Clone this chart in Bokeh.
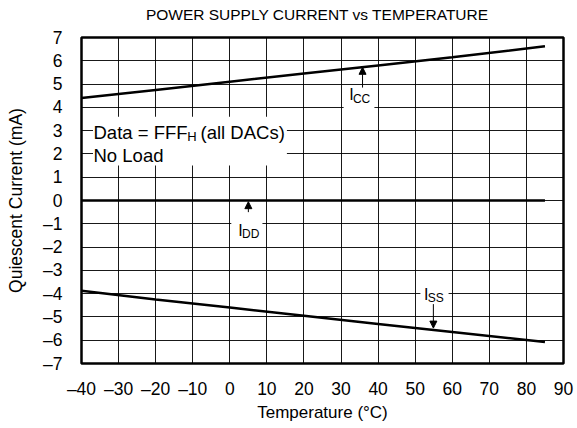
from bokeh.plotting import figure
from bokeh.models import Range1d, FixedTicker, Arrow, NormalHead, Div
from bokeh.layouts import column
from bokeh.core.properties import value
from bokeh.embed import file_html
from bokeh.resources import INLINE

# ---- data ----
temps = [-40, -20, 0, 20, 40, 60, 85]
icc = [4.4, 4.75, 5.1, 5.45, 5.8, 6.15, 6.62]
idd = [0, 0, 0, 0, 0, 0, 0]
iss = [-3.88, -4.25, -4.6, -4.95, -5.3, -5.65, -6.08]

x_ticks = [-40, -30, -20, -10, 0, 10, 20, 30, 40, 50, 60, 70, 80, 90]
y_ticks = [-7, -6, -5, -4, -3, -2, -1, 0, 1, 2, 3, 4, 5, 6, 7]

TITLE = "POWER SUPPLY CURRENT vs TEMPERATURE"
FONT = "Liberation Sans"

title_div = Div(text=TITLE, width=472, height=13, margin=(7, 0, 0, 81),
                styles={"font-family": FONT, "font-size": "15.5px",
                        "text-align": "center", "color": "black",
                        "line-height": "1", "white-space": "nowrap"})

p = figure(
    width=577, height=408,
    frame_width=482, frame_height=326,
    min_border_left=81, min_border_right=14, min_border_top=17, min_border_bottom=65,
    x_range=Range1d(-40, 90), y_range=Range1d(-7, 7),
    output_backend="svg", toolbar_location=None, margin=(0, 0, 0, 0),
)
p.background_fill_color = "white"
p.border_fill_color = "white"
p.outline_line_color = "black"
p.outline_line_width = 2.5

for ax, ticks in ((p.xaxis[0], x_ticks), (p.yaxis[0], y_ticks)):
    ax.ticker = FixedTicker(ticks=ticks)
    ax.major_label_overrides = {t: (str(t).replace("-", "\u2013")) for t in ticks}
    ax.axis_line_color = None
    ax.major_tick_line_color = None
    ax.minor_tick_line_color = None
    ax.major_tick_out = 0
    ax.major_tick_in = 0
    ax.major_label_text_font = FONT
    ax.major_label_text_font_size = "17.5px"
    ax.major_label_text_color = "black"
    ax.axis_label_text_font = FONT
    ax.axis_label_text_font_style = "normal"
    ax.axis_label_text_color = "black"

p.xaxis.axis_label = "Temperature (\u00b0C)"
p.yaxis.axis_label = "Quiescent Current (mA)"
p.xaxis.axis_label_text_font_size = "17px"
p.yaxis.axis_label_text_font_size = "17.5px"
p.xaxis.major_label_standoff = 15
p.yaxis.major_label_standoff = 19
p.xaxis.axis_label_standoff = 1
p.yaxis.axis_label_standoff = 14

p.xgrid.ticker = FixedTicker(ticks=x_ticks)
p.ygrid.ticker = FixedTicker(ticks=y_ticks)
for g in (p.xgrid[0], p.ygrid[0]):
    g.grid_line_color = "black"
    g.grid_line_width = 1
    g.grid_line_alpha = 0.9

# white boxes behind annotation texts
p.quad(left=[-36.9, 0.4, 30.7, 51.4], right=[15.4, 8.8, 39.0, 59.0],
       bottom=[1.5, -1.6, 3.6, -4.35], top=[3.6, -0.6, 4.8, -3.5],
       fill_color="white", line_color=None)

# curves
for ys in (icc, idd, iss):
    p.line(temps, ys, line_color="black", line_width=2.5)

def txt(x, y, s, size):
    p.text(x=[x], y=[y], text=[s], text_font=value(FONT),
           text_font_size=value(size), text_color="black",
           text_align="left", text_baseline="alphabetic")

txt(-36.76, 2.90, "Data = FFF", "18.5px")
txt(-11.5, 2.76, "H", "13px")
txt(-7.9, 2.90, "(all DACs)", "18.5px")
txt(-36.76, 1.93, "No Load", "18.5px")

txt(32.2, 4.55, "I", "16px")
txt(33.2, 4.38, "CC", "12px")
txt(2.3, -1.28, "I", "16px")
txt(3.3, -1.45, "DD", "12px")
txt(52.4, -4.02, "I", "16px")
txt(53.4, -4.19, "SS", "12px")

def arrow(x, y0, y1):
    p.add_layout(Arrow(end=NormalHead(size=7, fill_color="black", line_color="black"),
                       x_start=x, y_start=y0, x_end=x, y_end=y1,
                       line_color="black", line_width=1))

arrow(35.8, 4.85, 5.72)
arrow(5.0, -0.5, -0.05)
arrow(54.9, -4.45, -5.48)

layout = column(title_div, p, spacing=0)
open("out.html", "w").write(file_html(layout, INLINE))
